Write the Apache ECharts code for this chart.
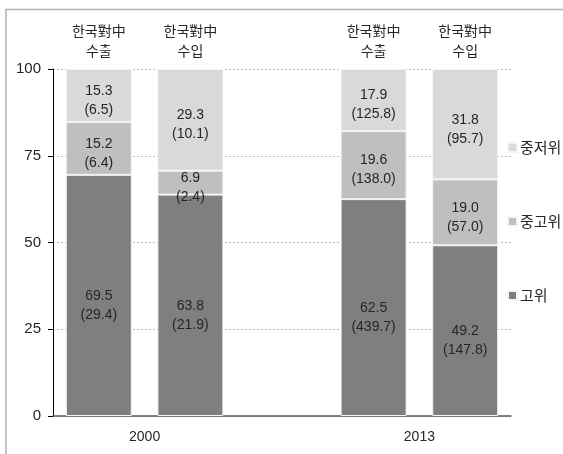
<!DOCTYPE html>
<html>
<head>
<meta charset="utf-8">
<style>
html,body{margin:0;padding:0;background:#fff;}
#chart{width:563px;height:454px;}
</style>
<script src="https://cdn.jsdelivr.net/npm/echarts@6/dist/echarts.min.js"></script>
</head>
<body>
<div id="chart"></div>
<script>
// ---- data ----
var categories = ['한국對中\n수출', '한국對中\n수입', '', '한국對中\n수출', '한국對中\n수입'];
var years = ['2000', '2013'];
var yearMembers = [[0, 1], [3, 4]];
var seriesNames = ['고위', '중고위', '중저위'];
var highShare   = [69.5, 63.8, null, 62.5, 49.2];
var highAmt     = [29.4, 21.9, null, 439.7, 147.8];
var midHighShare = [15.2, 6.9, null, 19.6, 19.0];
var midHighAmt   = [6.4, 2.4, null, 138.0, 57.0];
var midLowShare  = [15.3, 29.3, null, 17.9, 31.8];
var midLowAmt    = [6.5, 10.1, null, 125.8, 95.7];
var yTicks = [0, 25, 50, 75, 100];

// ---- styles ----
var colors = ['#7f7f7f', '#bfbfbf', '#d9d9d9'];
var labelOffsets = [[0, 10], [0, 5], [0, 5]];
var narrow = "'Liberation Sans Narrow', 'Liberation Sans', Arial, sans-serif";
var kr = "'Noto Sans CJK KR', 'Noto Sans', sans-serif";

// year label positions on the helper value axis (midpoint of member bar centers)
var yearPos = {};
yearMembers.forEach(function (m, i) {
  var c = m.map(function (k) { return k + 0.5; });
  var mid = (c[0] + c[c.length - 1]) / 2;
  yearPos[mid] = years[i];
});

function makeSeries(name, share, amt, idx) {
  return {
    name: name,
    type: 'bar',
    stack: 'total',
    xAxisIndex: 0,
    barWidth: 66,
    data: share,
    itemStyle: { color: colors[idx], borderColor: '#f4f4f4', borderWidth: 1 },
    label: {
      show: true,
      position: 'inside',
      offset: labelOffsets[idx],
      fontFamily: narrow,
      fontSize: 14,
      lineHeight: 19,
      color: '#262626',
      formatter: function (p) {
        if (p.value == null) return '';
        return p.value.toFixed(1) + '\n(' + amt[p.dataIndex].toFixed(1) + ')';
      }
    },
    emphasis: { disabled: true }
  };
}

var chart = echarts.init(document.getElementById('chart'), null, { renderer: 'canvas' });
chart.setOption({
  animation: false,
  backgroundColor: '#fff',
  graphic: [{
    type: 'rect',
    shape: { x: 6, y: 9.5, width: 600, height: 500 },
    style: { fill: 'none', stroke: '#b0b0b0', lineWidth: 1.5 },
    silent: true,
    z: -1
  }],
  grid: { left: 53, right: 52, top: 69, bottom: 38 },
  legend: {
    orient: 'vertical',
    left: 507,
    top: 140,
    padding: 0,
    itemWidth: 9,
    itemHeight: 9,
    itemGap: 59,
    icon: 'rect',
    data: ['중저위', '중고위', '고위'],
    textStyle: { fontFamily: kr, fontSize: 15, color: '#262626', padding: [0, 0, 0, -2] }
  },
  xAxis: [{
    type: 'category',
    position: 'top',
    data: categories,
    axisLine: { show: false },
    axisTick: { show: false },
    axisLabel: { fontFamily: kr, fontSize: 14, lineHeight: 20, color: '#262626', margin: 8, interval: 0 }
  }, {
    type: 'value',
    position: 'bottom',
    min: 0,
    max: categories.length,
    interval: 0.5,
    axisLine: { show: true, lineStyle: { color: '#5a5a5a', width: 1.5 } },
    axisTick: { show: false },
    splitLine: { show: false },
    axisLabel: {
      fontFamily: "'Liberation Sans', Arial, sans-serif",
      fontSize: 14,
      color: '#262626',
      margin: 14,
      showMinLabel: true,
      showMaxLabel: true,
      formatter: function (v) { return yearPos[v] || ''; }
    }
  }],
  yAxis: {
    type: 'value',
    min: yTicks[0],
    max: yTicks[yTicks.length - 1],
    interval: 25,
    axisLine: { show: true, lineStyle: { color: '#000', width: 1 } },
    axisTick: { show: true, length: 5, lineStyle: { color: '#000' } },
    splitLine: { show: true, lineStyle: { color: '#bdbdbd', type: [2, 2], width: 1 } },
    axisLabel: { fontFamily: narrow, fontSize: 15, color: '#262626', margin: 12 }
  },
  series: [
    makeSeries(seriesNames[0], highShare, highAmt, 0),
    makeSeries(seriesNames[1], midHighShare, midHighAmt, 1),
    makeSeries(seriesNames[2], midLowShare, midLowAmt, 2)
  ]
});
</script>
</body>
</html>
